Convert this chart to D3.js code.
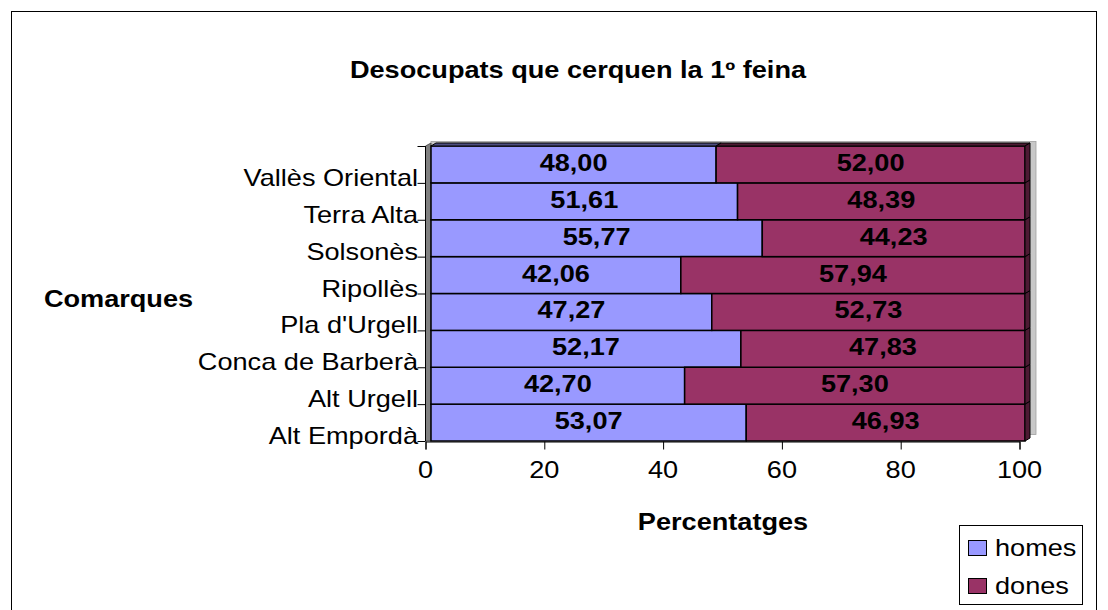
<!DOCTYPE html>
<html>
<head>
<meta charset="utf-8">
<script src="https://cdn.jsdelivr.net/npm/d3@7"></script>
<style>
  html, body { margin: 0; padding: 0; background: #fff; }
  svg { display: block; font-family: "Liberation Sans", Arial, sans-serif; }
</style>
</head>
<body>
<svg id="chart" width="1108" height="610"></svg>
<script>
// ---- data ----
const categories = ["Alt Empordà", "Alt Urgell", "Conca de Barberà", "Pla d'Urgell", "Ripollès", "Solsonès", "Terra Alta", "Vallès Oriental"];
const homes = [53.07, 42.70, 52.17, 47.27, 42.06, 55.77, 51.61, 48.00];
const dones = [46.93, 57.30, 47.83, 52.73, 57.94, 44.23, 48.39, 52.00];
const seriesNames = ["homes", "dones"];
const xTicks = [0, 20, 40, 60, 80, 100];
const titleText = "Desocupats que cerquen la 1º feina";
const xTitle = "Percentatges";
const yTitle = "Comarques";

// ---- style / layout ----
const colors = { homes: "#9999FF", dones: "#993366" };
const sideColors = { homes: "#4d4d80", dones: "#4d1a33" };
const SX = 1.18;          // horizontal stretch of text
const FS = 23;            // font size
const DX = 5, DY = 3;     // 3D depth
const OFF = 5.5;          // front face offset from axis

const svg = d3.select("#chart");
const loc = d3.formatLocale({ decimal: ",", thousands: ".", grouping: [3], currency: ["", "€"] });
const fmt = loc.format(".2f");

function stext(g, x, y, str, anchor, bold) {
  return g.append("text")
    .attr("transform", `translate(${x},${y}) scale(${SX},1)`)
    .attr("text-anchor", anchor || "start")
    .attr("font-size", FS)
    .attr("font-weight", bold ? "bold" : "normal")
    .attr("fill", "#000")
    .text(str);
}

// outer frame
svg.append("rect").attr("x", 11.5).attr("y", 11.5).attr("width", 1085).attr("height", 640)
  .attr("fill", "#fff").attr("stroke", "#000").attr("stroke-width", 1);

const x = d3.scaleLinear().domain([0, 100]).range([425.5, 1019.5]);
const y = d3.scaleBand().domain(categories).range([441, 146]).paddingInner(0).paddingOuter(0);

const g = svg.append("g");

// back light-gray wall sliver
const yTop = y.range()[1], yBottom = y.range()[0];
g.append("rect")
  .attr("x", x(0) + OFF).attr("y", yTop - DY - 1.5)
  .attr("width", x(100) + OFF + DX + 6 - (x(0) + OFF)).attr("height", yBottom - yTop - 2)
  .attr("fill", "#c8c8c8").attr("stroke", "#a0a0a0").attr("stroke-width", 0.8);

// left dark-gray wall
g.append("path")
  .attr("d", `M${x(0)},${yBottom} L${x(0)},${yTop} L${x(0) + OFF},${yTop - DY} L${x(0) + OFF},${yBottom} Z`)
  .attr("fill", "#808080").attr("stroke", "#404040").attr("stroke-width", 0.8);

// stacked data
const rows = categories.map((c, i) => ({ cat: c, homes: homes[i], dones: dones[i] }));
const stack = d3.stack().keys(seriesNames)(rows);

const bars = g.append("g");
stack.forEach(layer => {
  const key = layer.key;
  layer.forEach(d => {
    const x0 = x(d[0]) + OFF, x1 = x(d[1]) + OFF;
    const y0 = y(d.data.cat), y1 = y0 + y.bandwidth();
    bars.append("rect")
      .attr("x", x0).attr("y", y0).attr("width", x1 - x0).attr("height", y1 - y0)
      .attr("fill", colors[key]).attr("stroke", "#000").attr("stroke-width", 1.5);
  });
});

// top faces for top bar
const topCat = categories[categories.length - 1];
stack.forEach(layer => {
  const d = layer.find(e => e.data.cat === topCat);
  const x0 = x(d[0]) + OFF, x1 = x(d[1]) + OFF, y0 = y(topCat);
  bars.append("path")
    .attr("d", `M${x0},${y0} L${x0 + DX},${y0 - DY} L${x1 + DX},${y0 - DY} L${x1},${y0} Z`)
    .attr("fill", sideColors[layer.key]).attr("stroke", "#000").attr("stroke-width", 1);
});

// right side faces of last series
const last = stack[stack.length - 1];
last.forEach(d => {
  const x1 = x(d[1]) + OFF, y0 = y(d.data.cat), y1 = y0 + y.bandwidth();
  bars.append("path")
    .attr("d", `M${x1},${y0} L${x1 + DX},${y0 - DY} L${x1 + DX},${y1 - DY} L${x1},${y1} Z`)
    .attr("fill", sideColors.dones).attr("stroke", "#000").attr("stroke-width", 1);
});

// data labels
const labels = g.append("g");
stack.forEach(layer => {
  layer.forEach(d => {
    const cx = (x(d[0]) + x(d[1])) / 2 + OFF;
    const cy = y(d.data.cat) + y.bandwidth() / 2;
    stext(labels, cx, cy + 6.5, fmt(d[1] - d[0]), "middle", true);
  });
});

// y axis: line + ticks at band boundaries
const ax = g.append("g");
ax.append("line").attr("x1", x(0)).attr("x2", x(0)).attr("y1", yTop).attr("y2", yBottom)
  .attr("stroke", "#000").attr("stroke-width", 1);
const bounds = categories.map(c => y(c) + y.bandwidth()).concat([yTop]);
bounds.forEach(b => {
  ax.append("line").attr("x1", x(0) - 8).attr("x2", x(0)).attr("y1", b + 0.5).attr("y2", b + 0.5)
    .attr("stroke", "#000").attr("stroke-width", 1);
});
categories.forEach(c => {
  stext(ax, x(0) - 7.5, y(c) + y.bandwidth() + 3, c, "end", false);
});

// x axis
const xAxis = d3.axisBottom(x).tickValues(xTicks).tickSize(8).tickFormat(d3.format("d"));
const xg = g.append("g").attr("transform", `translate(0,${yBottom + 0.5})`).call(xAxis);
xg.select(".domain").attr("stroke", "#000");
xg.selectAll(".tick line").attr("stroke", "#000");
xg.selectAll(".tick text").remove();
xTicks.forEach(t => {
  stext(xg, x(t), 36.5, String(t), "middle", false);
});

// titles
stext(svg, 578, 78, titleText, "middle", true);
stext(svg, 723, 530, xTitle, "middle", true);
stext(svg, 118.5, 306.5, yTitle, "middle", true);

// legend
const lg = svg.append("g");
lg.append("rect").attr("x", 959.5).attr("y", 525.5).attr("width", 123).attr("height", 79)
  .attr("fill", "#fff").attr("stroke", "#000").attr("stroke-width", 1);
seriesNames.forEach((s, i) => {
  const yy = 540.5 + i * 38;
  lg.append("rect").attr("x", 968.5).attr("y", yy).attr("width", 18).attr("height", 15)
    .attr("fill", colors[s]).attr("stroke", "#000").attr("stroke-width", 1);
  stext(lg, 995, yy + 15.5, s, "start", false);
});
</script>
</body>
</html>
